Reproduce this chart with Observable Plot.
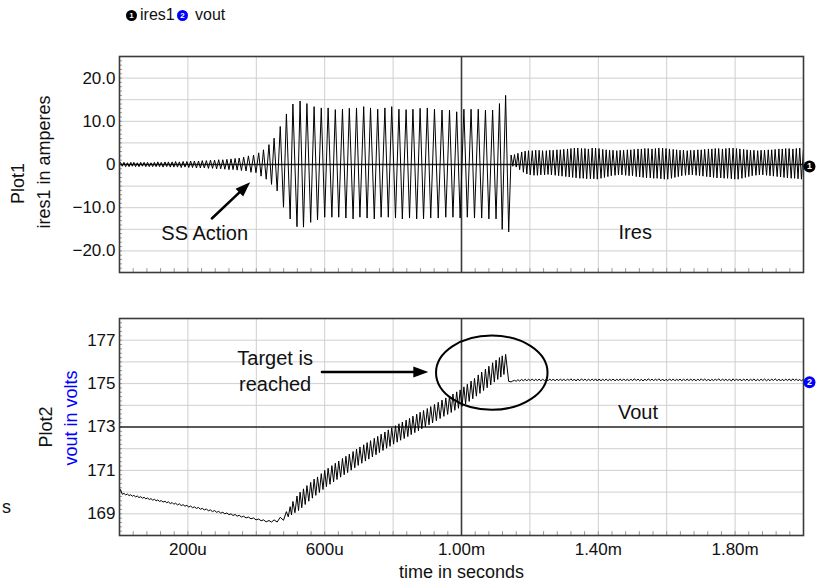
<!DOCTYPE html>
<html>
<head>
<meta charset="utf-8">
<script src="https://cdn.jsdelivr.net/npm/d3@7"></script>
<script src="https://cdn.jsdelivr.net/npm/@observablehq/plot@0.6"></script>
<style>
  body { margin: 0; background: #fff; font-family: "Liberation Sans", Arial, Helvetica, sans-serif; }
  #wrap { position: relative; width: 817px; height: 585px; overflow: hidden; background: #fff; }
  #wrap > svg { position: absolute; left: 0; }
  .leg { position: absolute; font-size: 16px; line-height: 16px; color: #111; white-space: nowrap; }
  .ico { position: absolute; width: 11px; height: 11px; border-radius: 50%; color: #fff; font-size: 8px; font-weight: bold; line-height: 11px; text-align: center; }
</style>
</head>
<body>
<div id="wrap">
  <div class="ico" style="left:126px;top:10px;background:#000;">1</div>
  <div class="leg" style="left:140px;top:7px;">ires1</div>
  <div class="ico" style="left:177px;top:10px;background:#0000ff;">2</div>
  <div class="leg" style="left:195px;top:7px;">vout</div>
</div>
<script>
// ---------- axis ticks ----------
const xTicks = [200, 600, 1000, 1400, 1800];                 // microseconds
const xTickLabels = ["200u", "600u", "1.00m", "1.40m", "1.80m"];
const iresTicks = [-20, -10, 0, 10, 20];
const iresTickLabels = ["\u221220.0", "\u221210.0", "0", "10.0", "20.0"];
const voutTicks = [169, 171, 173, 175, 177];
const voutTickLabels = ["169", "171", "173", "175", "177"];

// ---------- segment A: soft start, 0 .. 480 us (alternating extrema) ----------
const segA_t = [
  0, 3, 8, 13, 18, 23, 28, 33, 37.5, 42,
  47, 52, 57, 62, 67, 72, 77, 82, 87, 92,
  97, 102, 107, 112, 117, 122, 127.5, 133, 138, 143,
  148.5, 154, 159, 164, 169.5, 175, 180.5, 186, 191.5, 197,
  202.5, 208, 213.5, 219, 225, 231, 236.5, 242, 248, 254,
  260, 266, 272, 278, 284, 290, 296, 302, 308, 314,
  320, 326, 332, 338, 344, 350, 356.5, 363, 370, 377,
  384.5, 392, 399, 407, 414, 421, 429, 437, 444.5, 452,
  461, 470, 479.5];
const segA_ires = [
  0, 0.5, -0.4, 0.5, -0.5, 0.4, -0.5, 0.5, -0.4, 0.5,
  -0.5, 0.4, -0.5, 0.5, -0.4, 0.5, -0.5, 0.5, -0.5, 0.4,
  -0.5, 0.5, -0.5, 0.6, -0.5, 0.5, -0.6, 0.6, -0.5, 0.6,
  -0.6, 0.6, -0.6, 0.7, -0.6, 0.6, -0.7, 0.7, -0.6, 0.7,
  -0.7, 0.8, -0.7, 0.8, -0.8, 0.8, -0.8, 0.9, -0.8, 0.9,
  -0.9, 1.0, -0.9, 1.0, -1.0, 1.1, -1.0, 1.1, -1.1, 1.2,
  -1.2, 1.3, -1.2, 1.4, -1.3, 1.5, -1.4, 1.7, -1.5, 2.0,
  -1.8, 2.2, -1.9, 2.7, -2.7, 3.4, -3.4, 4.6, -4.6, 6.1,
  -6.1, 8.8, -9.9];
const segA_vout = [
  169.98, 170.12, 169.90, 169.94, 169.87, 169.91, 169.84, 169.88, 169.81, 169.85,
  169.78, 169.82, 169.75, 169.79, 169.72, 169.76, 169.69, 169.73, 169.66, 169.70,
  169.63, 169.67, 169.60, 169.64, 169.57, 169.61, 169.54, 169.58, 169.51, 169.55,
  169.47, 169.52, 169.44, 169.49, 169.41, 169.46, 169.38, 169.42, 169.35, 169.39,
  169.31, 169.36, 169.28, 169.32, 169.25, 169.29, 169.21, 169.25, 169.18, 169.22,
  169.14, 169.18, 169.10, 169.15, 169.07, 169.11, 169.03, 169.07, 169.00, 169.04,
  168.96, 169.00, 168.92, 168.97, 168.89, 168.93, 168.85, 168.89, 168.81, 168.85,
  168.77, 168.81, 168.72, 168.76, 168.68, 168.72, 168.63, 168.69, 168.62, 168.72,
  168.62, 168.84, 168.70];

// ---------- segment B: large resonance, 488 .. 1138 us ----------
const segB_t = [
  488, 499, 507, 519, 528, 538, 548, 559, 569, 579,
  590, 600, 610, 621, 631, 641, 652, 662, 672, 683,
  693, 703, 714, 724, 734, 745, 755, 765, 776, 786,
  796, 807, 817, 827, 838, 848, 858, 869, 879, 889,
  900, 910, 921, 932, 943, 954, 965, 975, 986, 996,
  1007, 1017, 1028, 1038, 1049, 1059, 1070, 1080, 1091, 1101,
  1111, 1119, 1129, 1138];
const segB_ires = [
  11.7, -12.6, 14.0, -14.4, 14.7, -14.5, 14.1, -13.4, 13.4, -12.8,
  13.1, -12.2, 13.1, -12.2, 12.7, -12.2, 12.8, -12.4, 13.0, -12.6,
  13.1, -12.2, 13.4, -12.4, 13.1, -12.6, 12.8, -12.2, 13.1, -12.2,
  13.4, -12.4, 12.8, -12.6, 12.7, -12.4, 12.8, -12.6, 13.0, -12.6,
  13.1, -12.4, 12.8, -12.4, 12.6, -12.2, 12.6, -12.2, 12.2, -12.4,
  12.8, -12.2, 12.8, -12.4, 12.8, -12.4, 12.6, -12.6, 12.6, -12.6,
  14.1, -15.0, 16.0, -15.6];
// vout ripple runs at twice the switching rate: highs at each ires extremum ...
const segB_voutHigh = [
  169.10, 169.33, 169.57, 169.82, 170.00, 170.15, 170.30, 170.45, 170.60, 170.70,
  170.85, 171.00, 171.10, 171.22, 171.33, 171.43, 171.55, 171.65, 171.75, 171.87,
  171.98, 172.08, 172.18, 172.28, 172.37, 172.48, 172.57, 172.67, 172.77, 172.87,
  172.96, 173.06, 173.15, 173.23, 173.32, 173.40, 173.50, 173.59, 173.68, 173.76,
  173.85, 173.94, 174.04, 174.14, 174.24, 174.34, 174.43, 174.52, 174.62, 174.71,
  174.85, 174.97, 175.12, 175.24, 175.40, 175.53, 175.67, 175.80, 175.96, 176.08,
  176.20, 176.28, 176.35, 175.10];
// ... and lows in between
const segB_voutLowT = [
  493.5, 503, 513, 523.5, 533, 543, 553.5, 564, 574, 584.5,
  595, 605, 615.5, 626, 636, 646.5, 657, 667, 677.5, 688,
  698, 708.5, 719, 729, 739.5, 750, 760, 770.5, 781, 791,
  801.5, 812, 822, 832.5, 843, 853, 863.5, 874, 884, 894.5,
  905, 915.5, 926.5, 937.5, 948.5, 959.5, 970, 980.5, 991, 1001.5,
  1012, 1022.5, 1033, 1043.5, 1054, 1064.5, 1075, 1085.5, 1096, 1106,
  1115, 1124];
const segB_voutLow = [
  168.86, 168.95, 169.05, 169.15, 169.28, 169.43, 169.58, 169.72, 169.85, 169.98,
  170.12, 170.25, 170.36, 170.47, 170.58, 170.69, 170.80, 170.90, 171.01, 171.12,
  171.23, 171.33, 171.43, 171.52, 171.62, 171.72, 171.82, 171.92, 172.02, 172.11,
  172.21, 172.30, 172.39, 172.47, 172.56, 172.65, 172.74, 172.83, 172.92, 173.00,
  173.10, 173.19, 173.29, 173.39, 173.49, 173.58, 173.67, 173.77, 173.86, 173.95,
  174.06, 174.18, 174.30, 174.42, 174.55, 174.68, 174.81, 174.94, 175.07, 175.19,
  175.30, 175.42];

// ---------- segment C: regulation, 1145 .. 2000 us ----------
const segC_t = [1145, 1150];
const segC_ires = [2.2, -0.4];
const segC_vout = [175.08, 175.12];

const cPeakT = [
  1155, 1165, 1176, 1186, 1196, 1207, 1217, 1227, 1237, 1248,
  1258, 1268, 1279, 1289, 1299, 1310, 1320, 1330, 1340, 1351,
  1361, 1371, 1382, 1392, 1402, 1413, 1423, 1433, 1443, 1454,
  1464, 1474, 1485, 1495, 1505, 1516, 1526, 1536, 1546, 1557,
  1567, 1577, 1588, 1598, 1608, 1619, 1629, 1639, 1649, 1660,
  1670, 1680, 1691, 1701, 1711, 1722, 1732, 1742, 1752, 1763,
  1773, 1783, 1794, 1804, 1814, 1825, 1835, 1845, 1855, 1866,
  1876, 1886, 1897, 1907, 1917, 1928, 1938, 1948, 1958, 1969,
  1979, 1989, 2000];
const cPeakIres = [
  2.3, 2.6, 2.9, 3.1, 3.2, 3.2, 3.3, 3.3, 3.2, 3.2,
  3.3, 3.3, 3.4, 3.4, 3.5, 3.6, 3.7, 3.8, 3.8, 3.7,
  3.7, 3.6, 3.8, 3.8, 3.7, 3.5, 3.4, 3.3, 3.3, 3.2,
  3.3, 3.3, 3.4, 3.4, 3.5, 3.6, 3.6, 3.7, 3.7, 3.6,
  3.7, 3.8, 3.8, 3.7, 3.6, 3.5, 3.4, 3.3, 3.3, 3.2,
  3.3, 3.3, 3.4, 3.4, 3.5, 3.6, 3.6, 3.7, 3.7, 3.6,
  3.7, 3.8, 3.8, 3.7, 3.6, 3.5, 3.4, 3.3, 3.3, 3.2,
  3.3, 3.3, 3.4, 3.4, 3.5, 3.6, 3.6, 3.7, 3.7, 3.6,
  3.7, 3.8, 3.7];
const cPeakVout = [
  175.15, 175.18, 175.19, 175.20, 175.20, 175.21, 175.20, 175.21, 175.20, 175.20,
  175.21, 175.20, 175.21, 175.21, 175.20, 175.21, 175.22, 175.21, 175.21, 175.22,
  175.21, 175.20, 175.21, 175.22, 175.21, 175.20, 175.21, 175.20, 175.21, 175.20,
  175.21, 175.21, 175.20, 175.21, 175.22, 175.21, 175.20, 175.21, 175.22, 175.21,
  175.21, 175.22, 175.21, 175.20, 175.21, 175.21, 175.20, 175.21, 175.20, 175.21,
  175.21, 175.20, 175.21, 175.22, 175.21, 175.21, 175.20, 175.21, 175.22, 175.21,
  175.20, 175.21, 175.22, 175.21, 175.20, 175.21, 175.21, 175.20, 175.21, 175.20,
  175.21, 175.21, 175.20, 175.21, 175.22, 175.21, 175.20, 175.21, 175.21, 175.22,
  175.21, 175.20, 175.21];
const cTroughT = [
  1160, 1170, 1181, 1191, 1201, 1212, 1222, 1232, 1243, 1253,
  1263, 1274, 1284, 1294, 1305, 1315, 1325, 1335, 1346, 1356,
  1366, 1377, 1387, 1397, 1408, 1418, 1428, 1438, 1449, 1459,
  1469, 1480, 1490, 1500, 1511, 1521, 1531, 1541, 1552, 1562,
  1572, 1583, 1593, 1603, 1614, 1624, 1634, 1644, 1655, 1665,
  1675, 1686, 1696, 1706, 1717, 1727, 1737, 1747, 1758, 1768,
  1778, 1789, 1799, 1809, 1820, 1830, 1840, 1850, 1861, 1871,
  1881, 1892, 1902, 1912, 1923, 1933, 1943, 1953, 1964, 1974,
  1984, 1994];
const cTroughIres = [
  -0.6, -1.2, -1.8, -2.2, -2.4, -2.5, -2.5, -2.4, -2.4, -2.3,
  -2.4, -2.5, -2.6, -2.7, -2.8, -2.9, -3.0, -3.1, -3.2, -3.2,
  -3.3, -3.3, -3.3, -3.4, -3.2, -3.0, -2.8, -2.6, -2.5, -2.4,
  -2.4, -2.5, -2.6, -2.6, -2.8, -2.9, -3.0, -3.1, -3.1, -3.2,
  -3.2, -3.3, -3.4, -3.4, -3.2, -3.0, -2.8, -2.6, -2.5, -2.4,
  -2.4, -2.5, -2.6, -2.7, -2.8, -2.9, -3.0, -3.1, -3.1, -3.2,
  -3.2, -3.3, -3.4, -3.4, -3.2, -3.0, -2.8, -2.6, -2.5, -2.4,
  -2.4, -2.5, -2.6, -2.7, -2.8, -2.9, -3.0, -3.1, -3.2, -3.2,
  -3.3, -3.4];
const cTroughVout = [
  175.11, 175.12, 175.13, 175.13, 175.14, 175.13, 175.14, 175.13, 175.14, 175.13,
  175.14, 175.13, 175.13, 175.14, 175.13, 175.14, 175.13, 175.12, 175.13, 175.14,
  175.13, 175.14, 175.13, 175.12, 175.13, 175.14, 175.13, 175.14, 175.13, 175.14,
  175.13, 175.14, 175.13, 175.13, 175.14, 175.13, 175.12, 175.13, 175.14, 175.13,
  175.14, 175.13, 175.12, 175.13, 175.14, 175.13, 175.14, 175.13, 175.14, 175.13,
  175.14, 175.13, 175.13, 175.14, 175.13, 175.12, 175.13, 175.14, 175.13, 175.14,
  175.13, 175.12, 175.13, 175.14, 175.13, 175.14, 175.13, 175.14, 175.13, 175.13,
  175.14, 175.13, 175.13, 175.14, 175.13, 175.12, 175.13, 175.14, 175.13, 175.14,
  175.13, 175.12];

// ---------- annotations (data units: us, A / V) ----------
const topNoteText = ["SS Action", "Ires"];
const topNoteT = [249, 1508];
const topNoteV = [-15.9, -15.7];
const ssArrowFrom = [270, -12.5];
const ssArrowTo = [382, -4.1];
const botNoteText = ["Target is\nreached", "Vout"];
const botNoteT = [455, 1516];
const botNoteV = [175.62, 173.77];
const targetArrowFrom = [592, 175.54];
const targetArrowTo = [903, 175.54];
const ellipseCenter = [1090, 175.48];
const ellipseRadii = [163, 1.71];

// ---------- build tables ----------
function pts(ts, ys) {
  const n = Math.min(ts.length, ys.length);
  return d3.range(n).map(k => ({t: ts[k], y: ys[k]}));
}
const byT = (a, b) => a.t - b.t;
const iresRows = [
  ...pts(segA_t, segA_ires), ...pts(segB_t, segB_ires), ...pts(segC_t, segC_ires),
  ...pts(cPeakT, cPeakIres), ...pts(cTroughT, cTroughIres)
].sort(byT);
const voutRows = [
  ...pts(segA_t, segA_vout), ...pts(segB_t, segB_voutHigh), ...pts(segB_voutLowT, segB_voutLow),
  ...pts(segC_t, segC_vout), ...pts(cPeakT, cPeakVout), ...pts(cTroughT, cTroughVout)
].sort(byT);

const FONT = '"Liberation Sans", Arial, Helvetica, sans-serif';
const GRID = "#cfcfcf";
const DARK = "#3a3a3a";
const BLUE = "#0000ff";
const gridX = [200, 400, 600, 800, 1200, 1400, 1600, 1800];
const minorX = d3.range(40, 2000, 40);
const gridYtop = [-20, -15, -10, -5, 5, 10, 15, 20];
const minorYtop = d3.range(-24, 25, 1);
const gridYbot = [169, 170, 171, 172, 174, 175, 176, 177];
const minorYbot = d3.range(168.2, 177.9, 0.2);

const headSymbol = {draw(ctx) { ctx.moveTo(0, 0); ctx.lineTo(-5.5, 15); ctx.lineTo(5.5, 15); ctx.closePath(); }};

const wrap = document.getElementById("wrap");

// ---------- top plot ----------
const topPlot = Plot.plot({
  width: 817, height: 300,
  marginLeft: 119, marginRight: 14, marginTop: 56, marginBottom: 28,
  style: {fontFamily: FONT, fontSize: "17px", color: "#111", background: "transparent", overflow: "visible"},
  x: {domain: [0, 2000], axis: null},
  y: {domain: [-25, 25], ticks: iresTicks, tickFormat: d => iresTickLabels[iresTicks.indexOf(d)], tickSize: 0, tickPadding: 4, label: null},
  marks: [
    Plot.ruleX(gridX, {stroke: GRID, strokeWidth: 1}),
    Plot.ruleY(gridYtop, {stroke: GRID, strokeWidth: 1}),
    Plot.ruleX(minorX, {y1: -25, y2: -24.1, stroke: "#999"}),
    Plot.ruleY(minorYtop, {x1: 0, x2: 9, stroke: "#999"}),
    Plot.ruleX([1000], {stroke: DARK, strokeWidth: 1.6}),
    Plot.ruleY([0], {stroke: "#222", strokeWidth: 1.5}),
    Plot.line(iresRows, {x: "t", y: "y", stroke: "#000", strokeWidth: 1}),
    Plot.frame({stroke: DARK, strokeWidth: 1.6}),
    Plot.text(["Plot1"], {text: d => d, frameAnchor: "left", textAnchor: "middle", rotate: -90, dx: -101, dy: 19, fontSize: 18, fill: "#111"}),
    Plot.text(["ires1 in amperes"], {text: d => d, frameAnchor: "left", textAnchor: "middle", rotate: -90, dx: -75, dy: -2.5, fontSize: 18, fill: "#111"}),
    Plot.text(topNoteText, {x: (d, k) => topNoteT[k], y: (d, k) => topNoteV[k], text: d => d, fontSize: 20, fill: "#111"}),
    Plot.arrow([0], {x1: () => ssArrowFrom[0], y1: () => ssArrowFrom[1], x2: () => ssArrowTo[0], y2: () => ssArrowTo[1], headLength: 0, insetEnd: 6, strokeWidth: 2.5, stroke: "#000"}),
    Plot.dot([0], {x: () => ssArrowTo[0], y: () => ssArrowTo[1], symbol: headSymbol, rotate: 46, fill: "#000", stroke: "none", r: 5}),
    Plot.dot([0], {x: () => 2000, y: () => 0, r: 6, fill: "#000", dx: 6, dy: 2}),
    Plot.text(["1"], {x: () => 2000, y: () => 0, text: d => d, fill: "#fff", fontSize: 9, fontWeight: "bold", dx: 6, dy: 2})
  ]
});
topPlot.style.top = "0px";
wrap.appendChild(topPlot);

// ---------- bottom plot ----------
const botPlot = Plot.plot({
  width: 817, height: 285,
  marginLeft: 119, marginRight: 14, marginTop: 18, marginBottom: 50,
  style: {fontFamily: FONT, fontSize: "17px", color: "#111", background: "transparent", overflow: "visible"},
  x: {domain: [0, 2000], ticks: xTicks, tickFormat: d => xTickLabels[xTicks.indexOf(d)], tickSize: 0, tickPadding: 7, label: null},
  y: {domain: [168, 178], ticks: voutTicks, tickFormat: d => voutTickLabels[voutTicks.indexOf(d)], tickSize: 0, tickPadding: 4, label: null},
  marks: [
    Plot.ruleX(gridX, {stroke: GRID, strokeWidth: 1}),
    Plot.ruleY(gridYbot, {stroke: GRID, strokeWidth: 1}),
    Plot.ruleX(minorX, {y1: 168, y2: 168.18, stroke: "#999"}),
    Plot.ruleY(minorYbot, {x1: 0, x2: 9, stroke: "#999"}),
    Plot.ruleX([1000], {stroke: DARK, strokeWidth: 1.6}),
    Plot.ruleY([173], {stroke: "#222", strokeWidth: 1.5}),
    Plot.line(voutRows, {x: "t", y: "y", stroke: "#000", strokeWidth: 1}),
    Plot.frame({stroke: DARK, strokeWidth: 1.6}),
    Plot.text(["Plot2"], {text: d => d, frameAnchor: "left", textAnchor: "middle", rotate: -90, dx: -73, dy: 0, fontSize: 18, fill: "#111"}),
    Plot.text(["vout in volts"], {text: d => d, frameAnchor: "left", textAnchor: "middle", rotate: -90, dx: -48, dy: -9, fontSize: 18, fill: BLUE}),
    Plot.text(["s"], {text: d => d, frameAnchor: "left", textAnchor: "middle", dx: -113, dy: 80, fontSize: 18, fill: "#111"}),
    Plot.text(["time in seconds"], {text: d => d, frameAnchor: "bottom", lineAnchor: "middle", dy: 37, fontSize: 18, fill: "#111"}),
    Plot.text(botNoteText, {x: (d, k) => botNoteT[k], y: (d, k) => botNoteV[k], text: d => d, fontSize: 20, lineHeight: 1.3, fill: "#111"}),
    Plot.arrow([0], {x1: () => targetArrowFrom[0], y1: () => targetArrowFrom[1], x2: () => targetArrowTo[0], y2: () => targetArrowTo[1], headLength: 0, insetEnd: 6, strokeWidth: 2.5, stroke: "#000"}),
    Plot.dot([0], {x: () => targetArrowTo[0], y: () => targetArrowTo[1], symbol: headSymbol, rotate: 90, fill: "#000", stroke: "none", r: 5}),
    Plot.dot([0], {x: () => 2000, y: () => 175.2, r: 6, fill: BLUE, dx: 6, dy: 3}),
    Plot.text(["2"], {x: () => 2000, y: () => 175.2, text: d => d, fill: "#fff", fontSize: 9, fontWeight: "bold", dx: 6, dy: 3})
  ]
});
botPlot.style.top = "300px";
wrap.appendChild(botPlot);

// ellipse around the target region, positioned through the plot's scales
const sx = botPlot.scale("x"), sy = botPlot.scale("y");
const ecx = sx.apply(ellipseCenter[0]), ecy = sy.apply(ellipseCenter[1]);
const erx = sx.apply(ellipseCenter[0] + ellipseRadii[0]) - ecx;
const ery = ecy - sy.apply(ellipseCenter[1] + ellipseRadii[1]);
d3.select(botPlot).append("ellipse")
  .attr("cx", ecx).attr("cy", ecy).attr("rx", erx).attr("ry", ery)
  .attr("fill", "none").attr("stroke", "#000").attr("stroke-width", 2);
</script>
</body>
</html>
